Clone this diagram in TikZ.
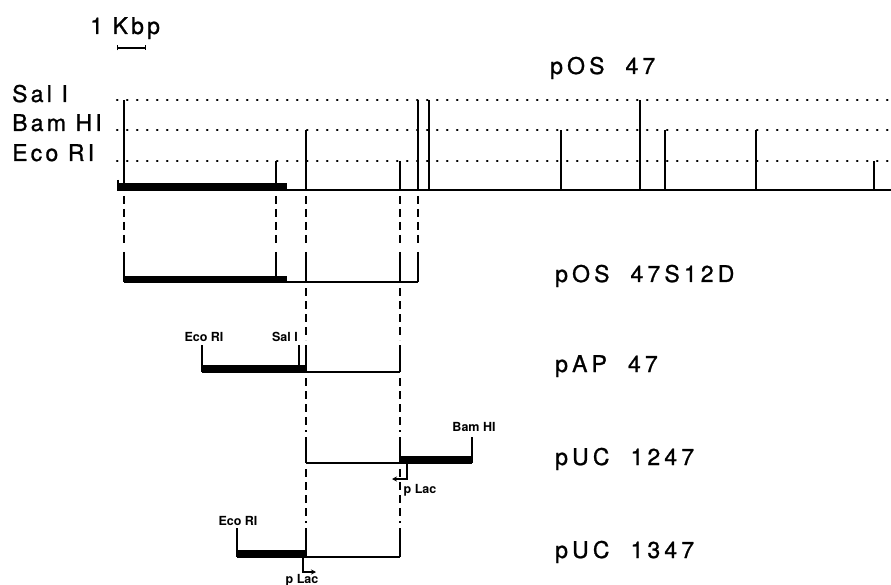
\documentclass[tikz,border=0pt]{standalone}
\usepackage{fontspec}
\setmainfont{TeX Gyre Heros}
\newfontfamily\mapfont[LetterSpace=18,WordSpace=2,FakeBold=1]{TeX Gyre Heros}
\newfontfamily\enzfont[LetterSpace=14,FakeBold=1]{TeX Gyre Heros}
\usetikzlibrary{arrows.meta,positioning}

\begin{document}
\begin{tikzpicture}[x=1pt, y=-1pt,
    plasmid/.style={font={\mapfont\fontsize{23pt}{27pt}\selectfont}, anchor=base west, inner sep=0pt},
    enzyme/.style={font={\enzfont\fontsize{23pt}{27pt}\selectfont}, anchor=base west, inner sep=0pt},
    tag/.style={font={\bfseries\fontsize{12.5pt}{14pt}\selectfont}, anchor=base, inner sep=0pt},
    dna/.style={line width=1.8pt},
    cut/.style={line width=2pt},
    insert/.style={fill=black},
    guide/.style={line width=2.2pt, line cap=round, dash pattern=on 0.6pt off 9.4pt},
    link/.style={line width=1.8pt, dash pattern=on 8pt off 5pt, shorten <=6pt, shorten >=5pt},
    arr/.style={-{Stealth[length=5pt, width=5pt]}, line width=1.4pt}
]
\useasboundingbox (0,0) rectangle (891,585);

\node[enzyme] (kbp) at (90,34) {1 Kbp};
\draw[line width=1.4pt, {Bar[width=5pt]}-{Bar[width=5pt]}] (117,48) -- (146,48);

\node[enzyme] (sal) at (12,102) {Sal I};
\node[enzyme] (bam) at (12,131) {Bam HI};
\node[enzyme] (eco) at (12,161) {Eco RI};
\foreach \y in {100,130,161}
  \draw[guide] (117,\y) -- (891,\y);

\node[plasmid] (pos47) at (550,74) {pOS 47};
\node[plasmid] (pos47s) at (555,282) {pOS 47S12D};
\node[plasmid] (pap47) at (555,372) {pAP 47};
\node[plasmid] (puc1247) at (555,465) {pUC 1247};
\node[plasmid] (puc1347) at (555,558) {pUC 1347};

% pOS 47
\fill[insert] (117,183) rectangle (287,191);
\draw[dna] (117,190) -- (891,190);
\draw[cut] (118,180) -- (118,190);
\foreach \x/\y/\n in {124/100/a, 276/161/b, 306/130/c, 400/161/d, 418/100/e}
  \draw[cut] (\x,\y) -- (\x,190) coordinate (os-\n);
\foreach \x/\y in {429/100, 561/130, 640/100, 665/130, 756/130, 874/161}
  \draw[cut] (\x,\y) -- (\x,190);

% pOS 47S12D
\fill[insert] (124,276) rectangle (287,283);
\draw[dna] (124,282) -- (418,282);
\foreach \x/\n in {124/a, 276/b, 306/c, 400/d, 418/e}
  \draw[cut] (\x,252) coordinate (s12-\n) -- (\x,282) coordinate (s12-\n-b);

% pAP 47
\fill[insert] (202,365) rectangle (306,373);
\draw[dna] (202,372) -- (400,372);
\foreach \x in {202, 299}
  \draw[cut] (\x,345) -- (\x,372);
\foreach \x/\n in {306/c, 400/d}
  \draw[cut] (\x,345) coordinate (ap-\n) -- (\x,372) coordinate (ap-\n-b);
\node[tag] (apeco) at (204,341) {Eco RI};
\node[tag] (apsal) at (285,341) {Sal I};

% pUC 1247
\fill[insert] (400,456) rectangle (472,464);
\draw[dna] (306,463) -- (472,463);
\draw[cut] (472,437) -- (472,463);
\foreach \x/\n in {306/c, 400/d}
  \draw[cut] (\x,437) coordinate (u12-\n) -- (\x,463) coordinate (u12-\n-b);
\node[tag] (u12bam) at (474,431) {Bam HI};
\coordinate (lac12) at (407,464);
\draw[arr] (lac12) |- ++(-15,15);
\node[tag] (u12lac) at (420,493) {p Lac};

% pUC 1347
\fill[insert] (237,550) rectangle (306,558);
\draw[dna] (237,557) -- (400,557);
\draw[cut] (237,528) -- (237,557);
\foreach \x/\n in {306/c, 400/d}
  \draw[cut] (\x,528) coordinate (u13-\n) -- (\x,557);
\node[tag] (u13eco) at (238,525) {Eco RI};
\coordinate (lac13) at (303,558);
\draw[arr] (lac13) |- ++(13,14);
\node[tag] (u13lac) at (302,583) {p Lac};

\foreach \n in {a,b,c,d,e}
  \draw[link] (os-\n) -- (s12-\n);
\foreach \n in {c,d} {
  \draw[link] (s12-\n-b) -- (ap-\n);
  \draw[link] (ap-\n-b) -- (u12-\n);
  \draw[link] (u12-\n-b) -- (u13-\n);
}
\end{tikzpicture}
\end{document}
